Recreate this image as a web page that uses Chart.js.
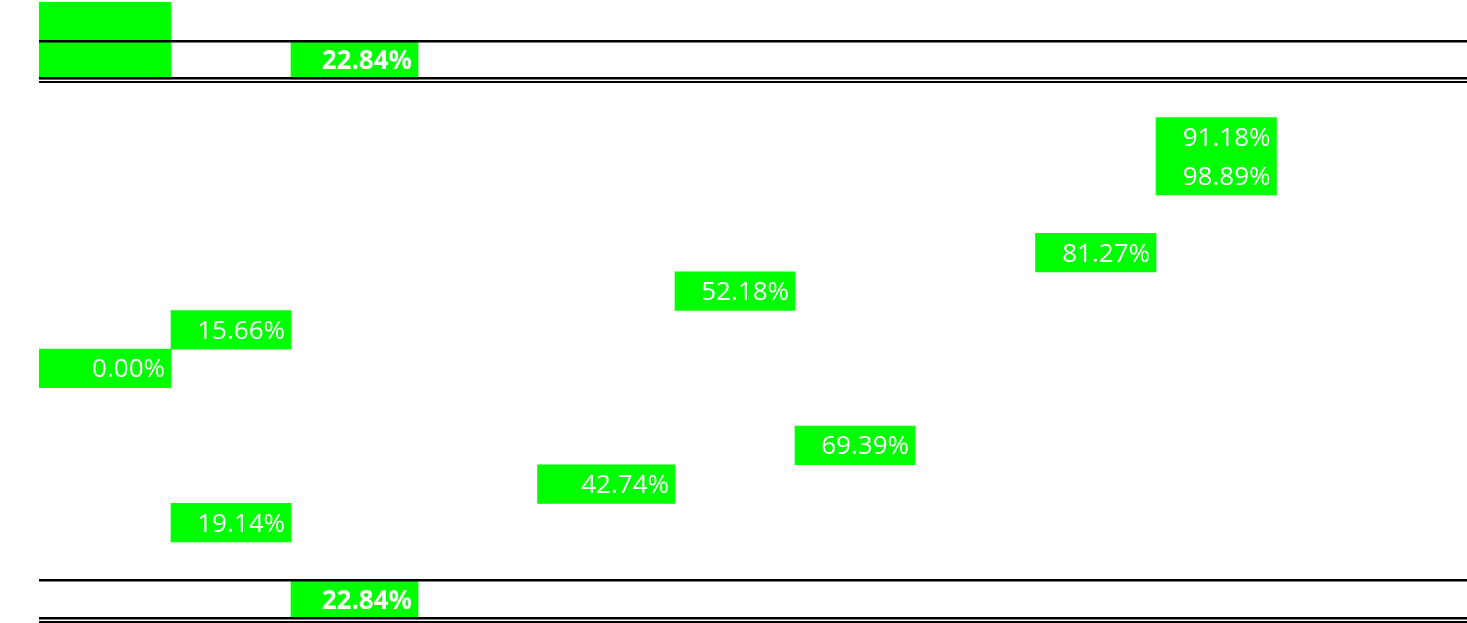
<!DOCTYPE html>
<html>
<head>
<meta charset="utf-8">
<script src="https://cdn.jsdelivr.net/npm/chart.js@4"></script>
<style>
  html,body{margin:0;padding:0;background:#fff;}
  #wrap{width:1467px;height:623px;position:relative;}
</style>
</head>
<body>
<div id="wrap"><canvas id="chart" width="1467" height="623"></canvas></div>
<script>
/* rows of the sheet (top to bottom) */
const rowLabels=["1","2","3","4","5","6","7","8","9","10","11","12","13","14","15","16"];
/* column edges of the sheet, x axis units */
const colEdges=[0,132,252,379,498.5,636,756,876,996.5,1117,1237.5,1357.5,1428];

/* filled cells */
const cellRows=[0,1,1,3,4,6,7,8,9,11,12,13,15];
const cellCols=[0,0,2,9,9,8,5,1,0,6,4,1,2];
const cellValues=[null,null,22.84,91.18,98.89,81.27,52.18,15.66,0.00,69.39,42.74,19.14,22.84];

/* rows with total borders (bold text) */
const totalRows=[1,15];

const GREEN="#00ff00";
const FONT="'Open Sans', sans-serif";

const cells=cellRows.map((r,i)=>({
  x:[colEdges[cellCols[i]],colEdges[cellCols[i]+1]],
  y:rowLabels[r],
  v:cellValues[i],
  bold:totalRows.includes(r)
}));

/* labels + borders */
const sheetPlugin={
  id:"sheet",
  afterDraw(chart){
    const ctx=chart.ctx;
    const meta=chart.getDatasetMeta(0);
    const ys=chart.scales.y;
    const area=chart.chartArea;
    const rowH=ys.height/rowLabels.length;

    ctx.save();
    ctx.fillStyle="#ffffff";
    ctx.textAlign="right";
    ctx.textBaseline="alphabetic";
    meta.data.forEach((bar,i)=>{
      const c=cells[i];
      if(c.v===null) return;
      const right=Math.max(bar.x,bar.base);
      ctx.font=(c.bold?"bold ":"")+"26px "+FONT;
      ctx.fillText(c.v.toFixed(2)+"%",right-6,bar.y+9);
    });

    /* borders */
    ctx.fillStyle="#000";
    const left=area.left;
    const w=chart.width-left;
    totalRows.forEach(r=>{
      const top=ys.getPixelForValue(r)-rowH/2;
      const bottom=top+rowH;
      ctx.fillRect(left,Math.round(top-1),w,2.5);
      ctx.fillRect(left,Math.round(bottom-2),w,2.5);
      ctx.fillRect(left,Math.round(bottom+1.5),w,2);
    });
    ctx.restore();
  }
};

new Chart(document.getElementById("chart"),{
  type:"bar",
  data:{
    labels:rowLabels,
    datasets:[{
      data:cells,
      backgroundColor:GREEN,
      borderWidth:0,
      barPercentage:1,
      categoryPercentage:1
    }]
  },
  options:{
    indexAxis:"y",
    responsive:false,
    animation:false,
    layout:{padding:{left:39,top:2,right:0,bottom:4}},
    plugins:{legend:{display:false},tooltip:{enabled:false}},
    scales:{
      x:{display:false,min:0,max:1428},
      y:{display:false}
    }
  },
  plugins:[sheetPlugin]
});
</script>
</body>
</html>
